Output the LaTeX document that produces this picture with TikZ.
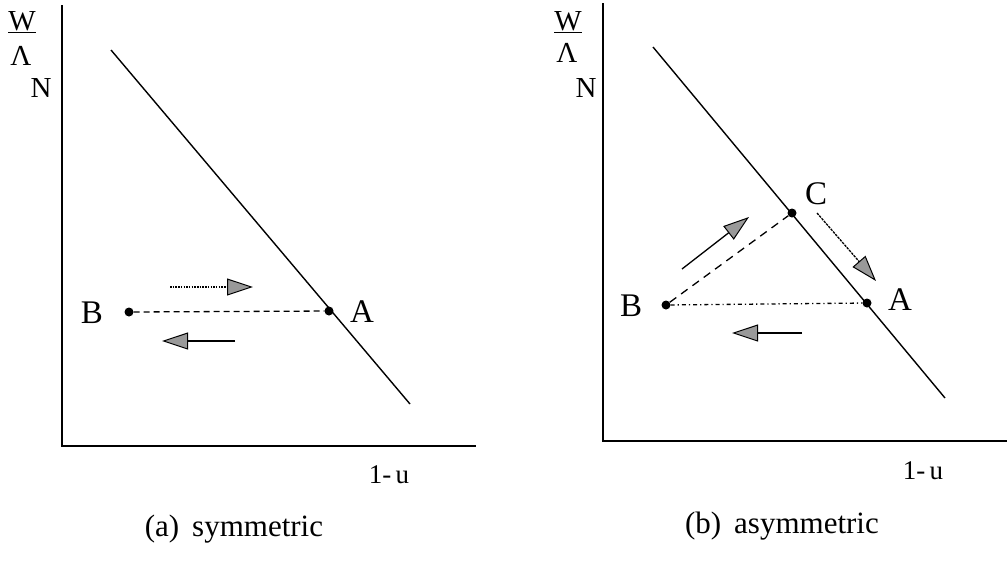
\documentclass[tikz,border=0pt]{standalone}
\usepackage{fontspec}
\setmainfont{Liberation Serif}
\usetikzlibrary{arrows.meta}
\begin{document}
\begin{tikzpicture}[x=1pt,y=-1pt,
  axis/.style={line width=1.3pt},
  curve/.style={line width=1.4pt},
  pt/.style={circle,fill=black,inner sep=0pt,minimum size=9pt},
  lbl/.style={font=\fontsize{33}{35}\selectfont,inner sep=0pt},
  albl/.style={font=\fontsize{29}{31}\selectfont,inner sep=0pt,anchor=base},
  ulbl/.style={font=\fontsize{27}{30}\selectfont,inner sep=0pt},
  captext/.style={font=\fontsize{31}{34}\selectfont,inner sep=0pt},
  mv/.style={line width=1.3pt,-{Triangle[length=26pt,width=17pt,fill=gray!80,line width=1pt]}},
]
\useasboundingbox (0,0) rectangle (1007,563);

% ---------- panel (a) ----------
\coordinate (ya) at (62,5);
\coordinate (oa) at (62,446);
\coordinate (xa) at (476,446);
\draw[axis] (ya) -- (oa) -- (xa);
\coordinate (la1) at (111,50);
\coordinate (la2) at (410,404);
\draw[curve] (la1) -- (la2);
\node[pt] (Aa) at (329,311) {};
\node[pt] (Ba) at (129,312) {};
\draw[line width=1.3pt,dash pattern=on 6pt off 4pt] (Ba) -- (Aa);
\node[lbl] (lAa) at (362,312) {A};
\node[lbl] (lBa) at (92,313) {B};
\coordinate (ua1) at (170,287);
\coordinate (ua2) at (253,287);
\draw[mv,dash pattern=on 1.5pt off 1.2pt] (ua1) -- (ua2);
\coordinate (da1) at (235,341);
\coordinate (da2) at (162,341);
\draw[mv] (da1) -- (da2);
\node[albl] (Wa) at (22,30) {W};
\draw[line width=1.4pt] ([yshift=-2.5pt]Wa.base west) -- ([yshift=-2.5pt]Wa.base east);
\node[albl] (Lama) at (21,65) {Λ};
\node[albl] (Na) at (41,97) {N};
\node[ulbl] (ua) at (389,475) {1-\,u};
\node[captext] (capa) at (234,529) {(a)\, symmetric};

% ---------- panel (b) ----------
\coordinate (yb) at (603,3);
\coordinate (ob) at (603,441);
\coordinate (xb) at (1007,441);
\draw[axis] (yb) -- (ob) -- (xb);
\coordinate (lb1) at (653,47);
\coordinate (lb2) at (945,398);
\draw[curve] (lb1) -- (lb2);
\node[pt] (Cb) at (792,213) {};
\node[pt] (Ab) at (867,303) {};
\node[pt] (Bb) at (666,305) {};
\draw[line width=1.3pt,dash pattern=on 8pt off 6pt] (Bb) -- (Cb);
\draw[line width=1.3pt,dash pattern=on 4pt off 3pt on 1.2pt off 3pt] (Bb) -- (Ab);
\node[lbl] (lCb) at (816,194) {C};
\node[lbl] (lAb) at (900,300) {A};
\node[lbl] (lBb) at (631,306) {B};
\coordinate (ub1) at (682,269);
\coordinate (ub2) at (749,217);
\draw[mv] (ub1) -- (ub2);
\coordinate (rb1) at (817,213);
\coordinate (rb2) at (876,281);
\draw[mv,dash pattern=on 2.5pt off 1pt] (rb1) -- (rb2);
\coordinate (lb3) at (802,333);
\coordinate (lb4) at (732,333);
\draw[mv] (lb3) -- (lb4);
\node[albl] (Wb) at (568,30) {W};
\draw[line width=1.4pt] ([yshift=-2.5pt]Wb.base west) -- ([yshift=-2.5pt]Wb.base east);
\node[albl] (Lamb) at (567,62) {Λ};
\node[albl] (Nb) at (586,97) {N};
\node[ulbl] (ub) at (923,471) {1-\,u};
\node[captext] (capb) at (782,526) {(b)\, asymmetric};
\end{tikzpicture}
\end{document}
